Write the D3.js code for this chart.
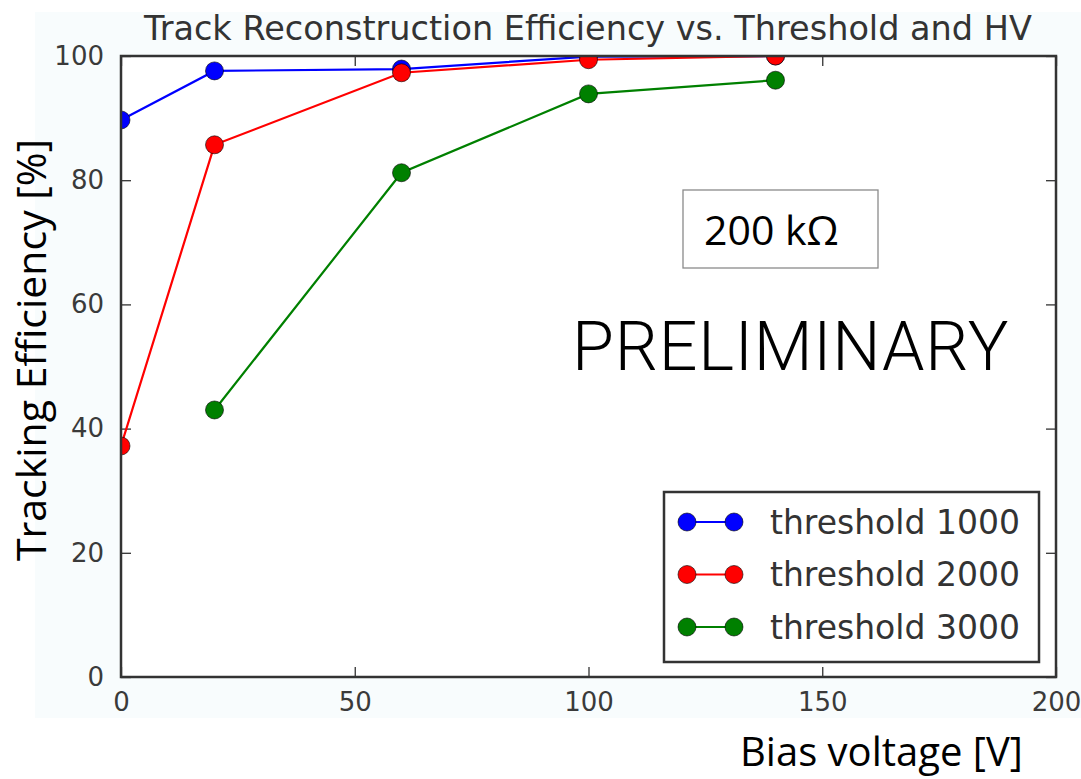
<!DOCTYPE html>
<html>
<head>
  <meta charset="utf-8">
  <title>Track Reconstruction Efficiency vs. Threshold and HV</title>
  <script src="https://d3js.org/d3.v7.min.js"></script>
  <style>
    body { margin: 0; background: #fff; }
  </style>
</head>
<body>
  <svg width="1081" height="779"></svg>
  <script>
    // bias voltage [V]
    const voltages = [0, 20, 60, 100, 140];
    const thr1000 = [89.7, 97.6, 97.9, 99.9, 100];
    const thr2000 = [37.2, 85.7, 97.3, 99.4, 100];
    const thr3000 = [null, 43.0, 81.2, 93.9, 96.1];
    const seriesNames = ["threshold 1000", "threshold 2000", "threshold 3000"];
    const seriesColors = ["#0000ff", "#ff0000", "#008000"];
    const xTicks = [0, 50, 100, 150, 200];
    const yTicks = [0, 20, 40, 60, 80, 100];

    const svg = d3.select("svg");
    const W = 1081, H = 779;
    const m = { left: 121, top: 56, right: 1056, bottom: 677 };

    // very light figure background from the original matplotlib output
    svg.append("rect")
      .attr("x", 35).attr("y", 12)
      .attr("width", W - 35).attr("height", 718 - 12)
      .attr("fill", "#f8fcfd");

    const x = d3.scaleLinear().domain([0, 200]).range([m.left, m.right]);
    const y = d3.scaleLinear().domain([0, 100]).range([m.bottom, m.top]);

    svg.append("rect")
      .attr("x", m.left).attr("y", m.top)
      .attr("width", m.right - m.left).attr("height", m.bottom - m.top)
      .attr("fill", "#fff");

    svg.append("clipPath").attr("id", "clip")
      .append("rect")
      .attr("x", m.left).attr("y", m.top)
      .attr("width", m.right - m.left).attr("height", m.bottom - m.top);

    const tickFont = "DejaVu Sans";
    const tickColor = "#3a3a3a";

    // axes with inward ticks on all sides
    const axisBottom = d3.axisBottom(x).tickValues(xTicks).tickSizeInner(-10).tickSizeOuter(0).tickPadding(14);
    const axisTop = d3.axisTop(x).tickValues(xTicks).tickSizeInner(-10).tickSizeOuter(0).tickFormat("");
    const axisLeft = d3.axisLeft(y).tickValues(yTicks).tickSizeInner(-10).tickSizeOuter(0).tickPadding(17);
    const axisRight = d3.axisRight(y).tickValues(yTicks).tickSizeInner(-10).tickSizeOuter(0).tickFormat("");

    const gB = svg.append("g").attr("transform", `translate(0,${m.bottom})`).call(axisBottom);
    const gT = svg.append("g").attr("transform", `translate(0,${m.top})`).call(axisTop);
    const gL = svg.append("g").attr("transform", `translate(${m.left},0)`).call(axisLeft);
    const gR = svg.append("g").attr("transform", `translate(${m.right},0)`).call(axisRight);

    [gB, gT, gL, gR].forEach(g => {
      g.select(".domain").remove();
      g.selectAll(".tick line").attr("stroke", "#333").attr("stroke-width", 1.3);
      g.selectAll(".tick text")
        .attr("font-family", tickFont)
        .attr("font-size", 26)
        .attr("fill", tickColor);
    });
    gB.selectAll(".tick text").attr("dy", "0.75em");

    // lines + markers
    const allSeries = [thr1000, thr2000, thr3000];
    const plot = svg.append("g").attr("clip-path", "url(#clip)");
    const line = d3.line()
      .defined(d => d[1] != null)
      .x(d => x(d[0]))
      .y(d => y(d[1]));

    allSeries.forEach((vals, i) => {
      const pts = voltages.map((v, j) => [v, vals[j]]);
      plot.append("path")
        .datum(pts)
        .attr("fill", "none")
        .attr("stroke", seriesColors[i])
        .attr("stroke-width", 2.2)
        .attr("d", line);
      plot.selectAll(null)
        .data(pts.filter(d => d[1] != null))
        .enter()
        .append("circle")
        .attr("cx", d => x(d[0]))
        .attr("cy", d => y(d[1]))
        .attr("r", 9)
        .attr("fill", seriesColors[i])
        .attr("stroke", "rgba(0,0,0,0.6)")
        .attr("stroke-width", 1);
    });

    // frame
    svg.append("rect")
      .attr("x", m.left).attr("y", m.top)
      .attr("width", m.right - m.left).attr("height", m.bottom - m.top)
      .attr("fill", "none")
      .attr("stroke", "#333")
      .attr("stroke-width", 2.5);

    // title
    svg.append("text")
      .attr("x", 588).attr("y", 40)
      .attr("text-anchor", "middle")
      .attr("font-family", tickFont)
      .attr("font-size", 33.5)
      .attr("fill", "#333")
      .text("Track Reconstruction Efficiency vs. Threshold and HV");

    // legend
    const lg = svg.append("g");
    lg.append("rect")
      .attr("x", 664).attr("y", 492)
      .attr("width", 375).attr("height", 170)
      .attr("fill", "#fff")
      .attr("stroke", "#333")
      .attr("stroke-width", 2.5);
    seriesNames.forEach((name, i) => {
      const cy = 522 + i * 52.5;
      lg.append("line")
        .attr("x1", 687).attr("x2", 734)
        .attr("y1", cy).attr("y2", cy)
        .attr("stroke", seriesColors[i]).attr("stroke-width", 2.2);
      [687, 734].forEach(cx => {
        lg.append("circle")
          .attr("cx", cx).attr("cy", cy).attr("r", 9)
          .attr("fill", seriesColors[i])
          .attr("stroke", "rgba(0,0,0,0.6)")
          .attr("stroke-width", 1);
      });
      lg.append("text")
        .attr("x", 770).attr("y", cy)
        .attr("dy", "0.36em")
        .attr("font-family", tickFont)
        .attr("font-size", 33)
        .attr("fill", "#333")
        .text(name);
    });

    // annotations added on top of the figure
    svg.append("rect")
      .attr("x", 683).attr("y", 190)
      .attr("width", 195).attr("height", 78)
      .attr("fill", "#fff")
      .attr("stroke", "#8a8a8a")
      .attr("stroke-width", 1.3);
    svg.append("text")
      .attr("x", 704).attr("y", 245)
      .attr("font-family", "Open Sans")
      .attr("font-size", 41)
      .attr("fill", "#000")
      .text("200 kΩ");

    svg.append("text")
      .attr("x", 572).attr("y", 370)
      .attr("font-family", "Roboto")
      .attr("font-weight", 300)
      .attr("font-size", 68)
      .attr("letter-spacing", 0.8)
      .attr("fill", "#000")
      .text("PRELIMINARY");

    svg.append("text")
      .attr("transform", "translate(46,350) rotate(-90)")
      .attr("text-anchor", "middle")
      .attr("font-family", "Open Sans")
      .attr("font-size", 41)
      .attr("fill", "#000")
      .text("Tracking Efficiency [%]");

    svg.append("text")
      .attr("x", 740).attr("y", 766)
      .attr("font-family", "Open Sans")
      .attr("font-size", 40)
      .attr("fill", "#000")
      .text("Bias voltage [V]");
  </script>
</body>
</html>
